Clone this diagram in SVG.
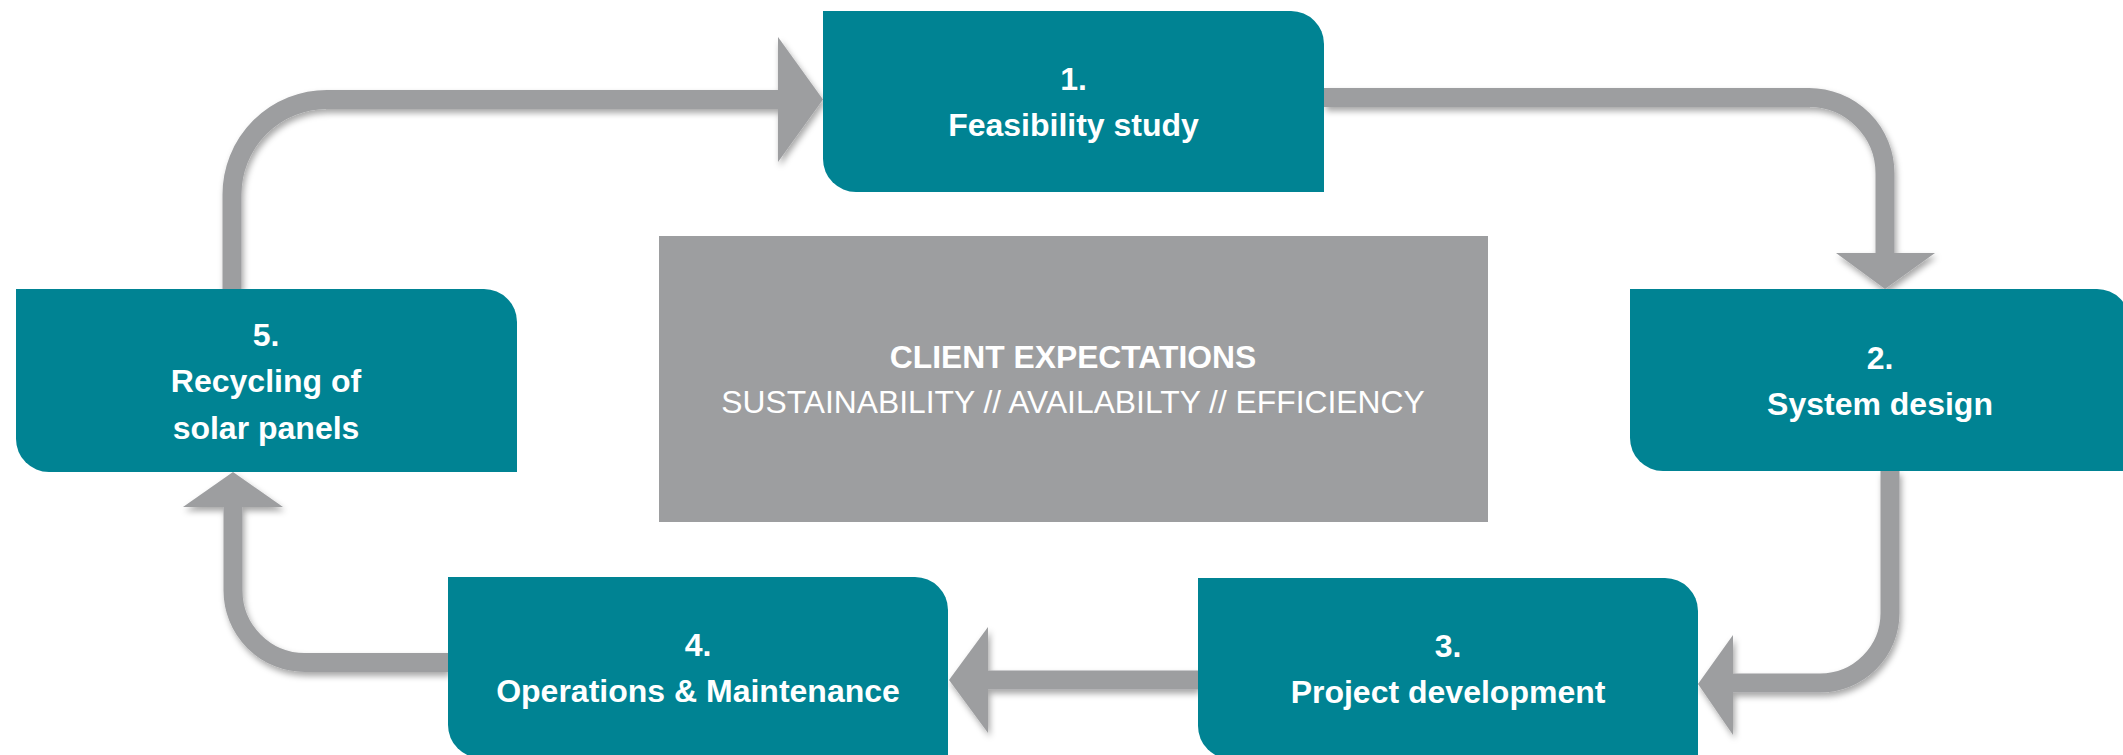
<svg xmlns="http://www.w3.org/2000/svg" width="2123" height="755" viewBox="0 0 2123 755">
  <style>
    .node { fill: #008393; }
    .center { fill: #9d9ea0; }
    .lbl { font-family: "Liberation Sans", Arial, sans-serif; font-weight: bold; font-size: 32px; fill: #ffffff; text-anchor: middle; }
    .ctitle { font-family: "Liberation Sans", Arial, sans-serif; font-weight: bold; font-size: 31.8px; fill: #ffffff; text-anchor: middle; }
    .csub { font-family: "Liberation Sans", Arial, sans-serif; font-size: 31.8px; fill: #ffffff; text-anchor: middle; }
    .line { fill: none; stroke: #9d9ea0; stroke-width: 19; }
    .head { fill: #9d9ea0; }
  </style>
  <defs>
    <filter id="sh" filterUnits="userSpaceOnUse" x="0" y="0" width="2123" height="755">
      <feDropShadow dx="2" dy="4" stdDeviation="3" flood-color="#000000" flood-opacity="0.35"/>
    </filter>
  </defs>
  <rect width="2123" height="755" fill="#ffffff"/>

  <g id="connectors" filter="url(#sh)">
    <path class="line" d="M 232,289 V 194.5 A 95 95 0 0 1 327,99.5 H 780"/>
    <polygon class="head" points="778,37 823,99.5 778,162"/>
    <path class="line" d="M 1324,97.5 H 1809 A 76 76 0 0 1 1885,173.5 V 255"/>
    <polygon class="head" points="1836,253 1935,253 1885,289"/>
    <path class="line" d="M 1890,471 V 613 A 70 70 0 0 1 1820,683 H 1731"/>
    <polygon class="head" points="1733,635 1733,735 1698,684"/>
    <path class="line" d="M 1198,680 H 986"/>
    <polygon class="head" points="988,627 988,733 949,680"/>
    <path class="line" d="M 448,662.5 H 305 A 72 72 0 0 1 233,590.5 V 505"/>
    <polygon class="head" points="183,507 283,507 233,472"/>
  </g>

  <g id="center-box">
    <rect class="center" x="659" y="236" width="829" height="286"/>
    <text class="ctitle" x="1073" y="368">CLIENT EXPECTATIONS</text>
    <text class="csub" x="1073" y="413">SUSTAINABILITY // AVAILABILTY // EFFICIENCY</text>
  </g>

  <g id="node1">
    <path class="node" d="M 823,11 H 1291 A 33 33 0 0 1 1324,44 V 192 H 856 A 33 33 0 0 1 823,159 Z"/>
    <text class="lbl" x="1073.5" y="90">1.</text>
    <text class="lbl" x="1073.5" y="136">Feasibility study</text>
  </g>

  <g id="node2">
    <path class="node" d="M 1630,289 H 2097 A 33 33 0 0 1 2130,322 V 471 H 1663 A 33 33 0 0 1 1630,438 Z"/>
    <text class="lbl" x="1880" y="369">2.</text>
    <text class="lbl" x="1880" y="415">System design</text>
  </g>

  <g id="node3">
    <path class="node" d="M 1198,578 H 1665 A 33 33 0 0 1 1698,611 V 759 H 1231 A 33 33 0 0 1 1198,726 Z"/>
    <text class="lbl" x="1448" y="657">3.</text>
    <text class="lbl" x="1448" y="703">Project development</text>
  </g>

  <g id="node4">
    <path class="node" d="M 448,577 H 915 A 33 33 0 0 1 948,610 V 758 H 481 A 33 33 0 0 1 448,725 Z"/>
    <text class="lbl" x="698" y="656">4.</text>
    <text class="lbl" x="698" y="702">Operations &amp; Maintenance</text>
  </g>

  <g id="node5">
    <path class="node" d="M 16,289 H 484 A 33 33 0 0 1 517,322 V 472 H 49 A 33 33 0 0 1 16,439 Z"/>
    <text class="lbl" x="266" y="345.5">5.</text>
    <text class="lbl" x="266" y="392">Recycling of</text>
    <text class="lbl" x="266" y="438.5">solar panels</text>
  </g>
</svg>
